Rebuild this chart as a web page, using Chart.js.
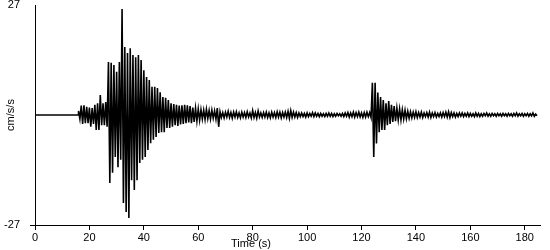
<!DOCTYPE html>
<html>
<head>
<meta charset="utf-8">
<script src="https://cdn.jsdelivr.net/npm/chart.js@4"></script>
<style>
  body { margin: 0; background: #fff; }
  #wrap { width: 550px; height: 250px; }
</style>
</head>
<body>
<div id="wrap"><canvas id="accelChart"></canvas></div>
<script>
// trace: one high and one low peak per second, from 16 s on
const startTime = 16;
const binSize = 1;
const peakHigh = [
  1.0, 2.3, 2.4, 2.0, 1.8, 1.7, 2.5, 2.9, 4.9, 2.9, 3.2,            // 16-26
  13.0, 12.8, 12.3, 10.6, 13.0, 26.0, 16.7, 15.2, 16.4, 14.7,        // 27-36
  14.2, 14.7, 13.5, 11.0, 9.3, 8.6, 6.9, 6.9, 6.6, 5.6,              // 37-46
  4.4, 4.2, 3.7, 2.9, 2.7, 2.5, 2.3, 2.4, 2.5, 2.4,                  // 47-56
  2.2, 1.8, 1.7, 1.5, 1.3, 1.2, 1.4, 1.1, 1.2, 1.0,                  // 57-66
  1.7, 0.8, 0.6, 0.7, 0.9, 0.6, 0.7, 0.8, 0.5, 0.7,                  // 67-76
  0.6, 0.8, 0.5, 1.1, 0.6, 1.0, 0.5, 0.6, 0.7, 0.5,                  // 77-86
  0.7, 0.6, 0.8, 0.7, 0.6, 0.7, 0.9, 1.1, 0.7, 0.6,                  // 87-96
  0.5, 0.5, 0.4, 0.5, 0.4, 0.6, 0.5, 0.4, 0.4, 0.3,                  // 97-106
  0.4, 0.5, 0.4, 0.3, 0.4, 0.3, 0.4, 0.5, 0.6, 0.5,                  // 107-116
  0.7, 0.6, 0.7, 0.5, 0.6, 0.7, 0.6, 7.9, 7.9, 5.5,                  // 117-126
  4.4, 3.7, 2.9, 3.4, 2.5, 2.2, 1.7, 1.5, 1.3, 1.2,                  // 127-136
  0.9, 0.8, 0.7, 0.8, 0.6, 0.7, 0.5, 0.6, 0.7, 0.5,                  // 137-146
  0.6, 0.4, 0.5, 0.6, 0.7, 0.8, 0.6, 0.5, 0.4, 0.5,                  // 147-156
  0.5, 0.4, 0.5, 0.4, 0.3, 0.5, 0.4, 0.3, 0.4, 0.5,                  // 157-166
  0.3, 0.4, 0.3, 0.4, 0.3, 0.4, 0.3, 0.4, 0.3, 0.4,                  // 167-176
  0.5, 0.3, 0.4, 0.3, 0.4, 0.3, 0.5, 0.2                             // 177-184
];
const peakLow = [
  -1.0, -2.2, -2.0, -2.0, -2.9, -2.2, -3.7, -3.7, -2.5, -2.5, -2.9,
  -16.7, -14.2, -10.3, -12.8, -11.0, -21.6, -23.8, -25.3, -16.0, -18.4,
  -16.0, -11.8, -11.0, -10.3, -8.6, -6.9, -6.1, -5.4, -4.4, -4.2,
  -4.2, -3.2, -3.2, -2.9, -2.5, -2.7, -2.3, -2.2, -2.0, -1.8,
  -2.0, -1.7, -1.5, -1.3, -1.0, -1.1, -0.9, -1.0, -0.8, -1.0,
  -2.9, -0.6, -0.7, -0.5, -0.6, -0.8, -0.5, -0.6, -0.7, -0.5,
  -0.6, -0.5, -0.7, -0.6, -0.8, -0.5, -0.6, -0.5, -0.6, -0.7,
  -0.5, -0.6, -0.5, -0.7, -0.5, -0.6, -0.8, -0.6, -0.5, -0.6,
  -0.4, -0.4, -0.5, -0.4, -0.3, -0.4, -0.3, -0.4, -0.3, -0.4,
  -0.3, -0.3, -0.4, -0.3, -0.2, -0.3, -0.4, -0.3, -0.5, -0.4,
  -0.5, -0.4, -0.5, -0.6, -0.5, -0.4, -0.6, -10.3, -7.0, -4.2,
  -3.7, -3.7, -2.5, -2.2, -1.7, -1.5, -1.2, -1.2, -1.0, -0.9,
  -0.8, -0.7, -0.6, -0.6, -0.5, -0.6, -0.4, -0.5, -0.6, -0.4,
  -0.5, -0.4, -0.5, -0.4, -0.5, -0.6, -0.4, -0.5, -0.4, -0.3,
  -0.4, -0.3, -0.4, -0.3, -0.4, -0.3, -0.4, -0.3, -0.2, -0.3,
  -0.3, -0.2, -0.3, -0.2, -0.3, -0.2, -0.3, -0.2, -0.3, -0.2,
  -0.3, -0.2, -0.3, -0.2, -0.3, -0.2, -0.3, -0.2
];
const yLimit = 27;
const xMax = 185.6;
const xTickStep = 20;

const fontFamily = "'Liberation Sans', Arial, sans-serif";

// flat trace before the first arrival, then high/low zigzag for each second
const tracePoints = [{ x: 0, y: 0 }, { x: startTime, y: 0 }];
for (let i = 0; i < peakHigh.length; i++) {
    const t = startTime + i * binSize;
    tracePoints.push({ x: t, y: peakHigh[i] });
    tracePoints.push({ x: t + binSize / 2, y: peakLow[i] });
}

// x-axis title sits under the 80 s tick in the original, not centred
const timeTitle = {
    id: 'timeTitle',
    afterDraw(chart) {
        const ctx = chart.ctx;
        ctx.save();
        ctx.font = '11px ' + fontFamily;
        ctx.fillStyle = '#000';
        ctx.textAlign = 'center';
        ctx.textBaseline = 'middle';
        ctx.fillText('Time (s)', 251, 244);
        ctx.restore();
    }
};

new Chart(document.getElementById('accelChart'), {
    type: 'line',
    data: {
        datasets: [{
            data: tracePoints,
            borderColor: '#000',
            borderWidth: 1.6,
            pointRadius: 0,
            tension: 0,
            fill: false
        }]
    },
    options: {
        responsive: true,
        maintainAspectRatio: false,
        animation: false,
        layout: { padding: { top: 0, right: 10, left: 0, bottom: 0 } },
        plugins: {
            legend: { display: false },
            tooltip: { enabled: false }
        },
        scales: {
            x: {
                type: 'linear',
                min: 0,
                max: xMax,
                afterFit: scale => { scale.height = 25; },
                afterBuildTicks: scale => {
                    const ticks = [];
                    for (let v = 0; v <= 180; v += xTickStep) ticks.push({ value: v });
                    scale.ticks = ticks;
                },
                grid: {
                    drawOnChartArea: false,
                    drawTicks: true,
                    tickLength: 5,
                    color: '#000'
                },
                border: { color: '#000', width: 1 },
                ticks: {
                    color: '#000',
                    padding: 1,
                    maxRotation: 0,
                    autoSkip: false,
                    font: { family: fontFamily, size: 11 }
                },
                title: { display: false }
            },
            y: {
                min: -yLimit,
                max: yLimit,
                afterFit: scale => {
                    scale.width = 35;
                    scale.paddingTop = 5;
                    scale.paddingBottom = 0;
                },
                afterBuildTicks: scale => {
                    scale.ticks = [{ value: -yLimit }, { value: yLimit }];
                },
                grid: {
                    drawOnChartArea: false,
                    drawTicks: true,
                    tickLength: 5,
                    tickColor: ctx => (ctx.tick && ctx.tick.value < 0) ? '#000' : 'rgba(0,0,0,0)'
                },
                border: { color: '#000', width: 1 },
                ticks: {
                    color: '#000',
                    padding: 10,
                    font: { family: fontFamily, size: 11 }
                },
                title: {
                    display: true,
                    text: 'cm/s/s',
                    color: '#000',
                    padding: { top: 4, bottom: 0 },
                    font: { family: fontFamily, size: 11 }
                }
            }
        }
    },
    plugins: [timeTitle]
});
</script>
</body>
</html>
